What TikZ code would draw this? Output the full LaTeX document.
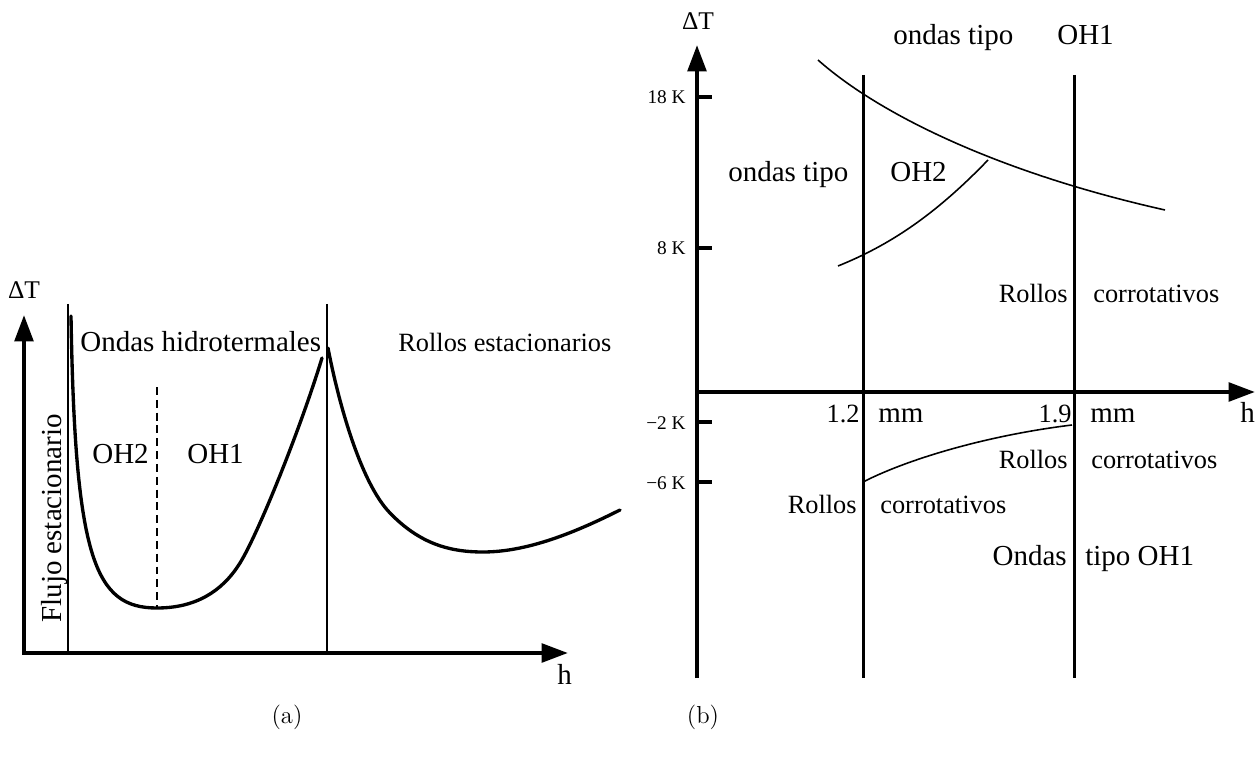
\documentclass[tikz,border=0pt]{standalone}
\usepackage{fontspec}
\setmainfont{Liberation Serif}
\newfontfamily\capfont{Latin Modern Roman}
\usetikzlibrary{arrows.meta}

\begin{document}
\begin{tikzpicture}[
    x=0.02cm, y=-0.02cm,
    >={Triangle[length=15pt, width=10.5pt]},
    axis/.style={line width=2.4pt},
    bound/.style={line width=0.6pt},
    curve/.style={line width=1.9pt, line cap=round},
    vline/.style={line width=1.7pt},
    thincurve/.style={line width=0.9pt},
    lab/.style={inner sep=0pt, font=\fontsize{16.5}{19}\selectfont},
    slab/.style={inner sep=0pt, font=\fontsize{15}{17}\selectfont},
    axlab/.style={inner sep=0pt, font=\fontsize{14.5}{16}\selectfont},
    ticklab/.style={inner sep=0pt, anchor=base east, font=\fontsize{11}{13}\selectfont},
    caption/.style={inner sep=0pt, font=\capfont\fontsize{14}{16}\selectfont},
]
    \useasboundingbox (0,0) rectangle (1258,760);

    % (a) axes
    \coordinate (aY) at (24,315);
    \coordinate (aO) at (24,653);
    \coordinate (aX) at (568,653);
    \draw[axis, <->] (aY) -- (aO) -- (aX);
    \node[axlab, anchor=base] (aDT) at (24,298) {ΔT};
    \node[lab, anchor=base west] (ah) at (557,684) {h};

    % (a) region borders
    \coordinate (aL1) at (68,304);  \coordinate (aL2) at (68,653);
    \coordinate (aR1) at (327,304); \coordinate (aR2) at (327,653);
    \coordinate (aD1) at (157,387); \coordinate (aD2) at (157,608);
    \draw[bound] (aL1) -- (aL2);
    \draw[bound] (aR1) -- (aR2);
    \draw[bound, dash pattern=on 4.5pt off 2.8pt] (aD1) -- (aD2);

    % (a) stability curve
    \draw[curve] (71,316) .. controls (75,560) and (95,608) .. (157,608)
        .. controls (195,608) and (222,592) .. (240,563)
        .. controls (258,534) and (300,430) .. (322,358);
    \draw[curve] (328,348) .. controls (338,400) and (360,482) .. (390,513)
        .. controls (420,544) and (450,552) .. (483,552)
        .. controls (530,552) and (580,530) .. (620,510);

    % (a) labels
    \node[lab, anchor=base west] (aOH) at (80,352) {Ondas hidrotermales};
    \node[slab, anchor=base west] (aRE) at (398,352) {Rollos estacionarios};
    \node[lab, anchor=base west] (aOH2) at (92,463) {OH2};
    \node[lab, anchor=base west] (aOH1) at (187,463) {OH1};
    \node[lab, rotate=90, anchor=base west] (aFE) at (61,623) {Flujo estacionario};
    \node[caption] (capa) at (287,717) {(a)};

    % (b) axes
    \coordinate (bY0) at (697,678);
    \coordinate (bY) at (697,45);
    \coordinate (bX0) at (697,392);
    \coordinate (bX) at (1255,392);
    \draw[axis, ->] (bY0) -- (bY);
    \draw[axis, ->] (bX0) -- (bX);
    \node[axlab, anchor=base] (bDT) at (698,30) {ΔT};
    \node[lab, anchor=base west] (bh) at (1240,422) {h};

    % (b) ticks
    \foreach \y/\lab in {97/18 K, 248/8 K, 422/−2 K, 482/−6 K} {
        \draw[axis] (697,\y) -- (712,\y);
        \node[ticklab] at (686,\y+7) {\lab};
    }

    % (b) critical thicknesses
    \coordinate (bA1) at (863,75);  \coordinate (bA2) at (863,678);
    \coordinate (bB1) at (1074,75); \coordinate (bB2) at (1074,678);
    \draw[vline] (bA1) -- (bA2);
    \draw[vline] (bB1) -- (bB2);

    % (b) boundaries
    \draw[thincurve] (818,60) .. controls (880,115) and (1000,173) .. (1165,210);
    \draw[thincurve] (838,266) .. controls (890,245) and (935,215) .. (988,160);
    \draw[thincurve] (863,482) .. controls (910,458) and (990,435) .. (1072,425);

    % (b) labels
    \node[lab, anchor=base west] (bTop) at (893,45) {ondas tipo};
    \node[lab, anchor=base west] (bTopOH) at (1057,45) {OH1};
    \node[lab, anchor=base west] (bMid) at (728,182) {ondas tipo};
    \node[lab, anchor=base west] (bMidOH) at (890,182) {OH2};
    \node[slab, anchor=base east] (bR1) at (1068,302) {Rollos};
    \node[slab, anchor=base west] (bC1) at (1093,302) {corrotativos};
    \node[slab, anchor=base east] (b12) at (860,422) {1.2};
    \node[lab, anchor=base west] (bmm1) at (878,422) {mm};
    \node[slab, anchor=base east] (b19) at (1072,422) {1.9};
    \node[lab, anchor=base west] (bmm2) at (1090,422) {mm};
    \node[slab, anchor=base east] (bR2) at (1068,468) {Rollos};
    \node[slab, anchor=base west] (bC2) at (1091,468) {corrotativos};
    \node[slab, anchor=base east] (bR3) at (857,513) {Rollos};
    \node[slab, anchor=base west] (bC3) at (880,513) {corrotativos};
    \node[lab, anchor=base east] (bOn) at (1067,565) {Ondas};
    \node[lab, anchor=base west] (bTi) at (1085,565) {tipo OH1};
    \node[caption] (capb) at (703,717) {(b)};
\end{tikzpicture}
\end{document}
